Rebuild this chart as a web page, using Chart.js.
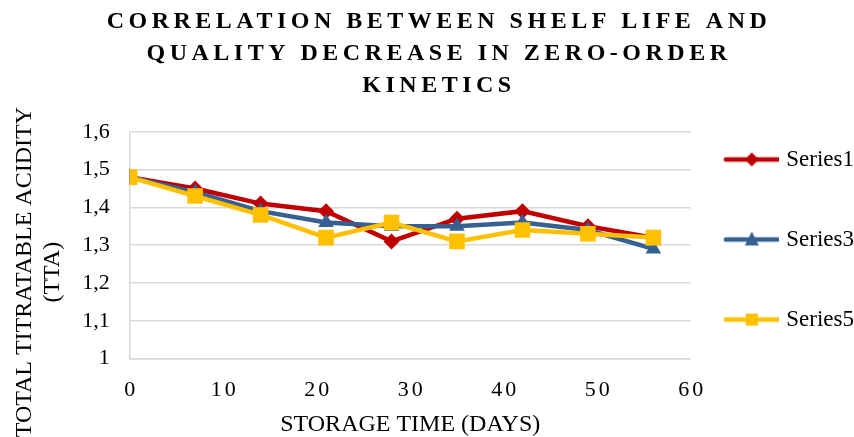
<!DOCTYPE html>
<html>
<head>
<meta charset="utf-8">
<script src="https://cdn.jsdelivr.net/npm/chart.js@4.4.1/dist/chart.umd.min.js"></script>
<style>
  html, body { margin: 0; padding: 0; background: #fff; }
  #wrap { width: 854px; height: 437px; position: relative; }
</style>
</head>
<body>
<div id="wrap"><canvas id="c"></canvas></div>
<script>
// ---- data ----
const days = [0, 7, 14, 21, 28, 35, 42, 49, 56];
const series1 = [1.48, 1.45, 1.41, 1.39, 1.31, 1.37, 1.39, 1.35, 1.32];
const series3 = [1.48, 1.44, 1.39, 1.36, 1.35, 1.35, 1.36, 1.34, 1.29];
const series5 = [1.48, 1.43, 1.38, 1.32, 1.36, 1.31, 1.34, 1.33, 1.32];
const seriesNames = ['Series1', 'Series3', 'Series5'];
const xTickLabels = ['0', '10', '20', '30', '40', '50', '60'];
const yTickLabels = ['1', '1,1', '1,2', '1,3', '1,4', '1,5', '1,6'];
const titleLines = ['CORRELATION BETWEEN SHELF LIFE AND', 'QUALITY DECREASE IN ZERO-ORDER', 'KINETICS'];
const xTitle = 'STORAGE TIME (DAYS)';
const yTitleLines = ['TOTAL TITRATABLE ACIDITY', '(TTA)'];

const RED = '#C00000', BLUE = '#366092', YELLOW = '#FFC000';
const FONT = "'Liberation Serif', 'Times New Roman', serif";

function toXY(ys) { return days.map((d, i) => ({ x: d, y: ys[i] })); }

// legend icons (line + marker)
function makeIcon(color, shape) {
  const c = document.createElement('canvas');
  c.width = 58; c.height = 22;
  const g = c.getContext('2d');
  g.strokeStyle = color; g.fillStyle = color; g.lineWidth = 4.5; g.lineCap = 'round';
  g.beginPath(); g.moveTo(5, 11); g.lineTo(58, 11); g.stroke();
  g.beginPath();
  if (shape === 'diamond') { g.moveTo(31, 4); g.lineTo(38, 11); g.lineTo(31, 18); g.lineTo(24, 11); }
  else if (shape === 'triangle') { g.moveTo(31, 3); g.lineTo(38, 17); g.lineTo(24, 17); }
  else { g.rect(25, 5, 12, 12); }
  g.closePath(); g.fill();
  return c;
}
const legendIcons = [makeIcon(RED, 'diamond'), makeIcon(BLUE, 'triangle'), makeIcon(YELLOW, 'square')];

function wrap(obj, name, fn) {
  if (!obj || obj['_w_' + name]) return;
  const orig = obj[name];
  obj[name] = function () { const c = this.ctx; c.save(); fn(c); orig.apply(this, arguments); c.restore(); };
  obj['_w_' + name] = true;
}

const spacingPlugin = {
  id: 'spacing',
  beforeDraw(chart) {
    wrap(chart.titleBlock, 'draw', c => { c.letterSpacing = '4.5px'; c.translate(12, 0); });
    wrap(chart.legend, 'draw', c => { c.translate(10, 37.5); });
    wrap(chart.scales.x, 'drawLabels', c => { c.letterSpacing = '3px'; c.translate(1.5, 0); });
    wrap(chart.scales.y, 'drawTitle', c => { c.translate(11, 27); });
  }
};

new Chart(document.getElementById('c'), {
  type: 'line',
  data: {
    datasets: [
      { label: seriesNames[0], data: toXY(series1), borderColor: RED, backgroundColor: RED, pointStyle: 'rectRot', pointRadius: 8, order: 3 },
      { label: seriesNames[1], data: toXY(series3), borderColor: BLUE, backgroundColor: BLUE, pointStyle: 'triangle', pointRadius: 9, order: 2 },
      { label: seriesNames[2], data: toXY(series5), borderColor: YELLOW, backgroundColor: YELLOW, pointStyle: 'rect', pointRadius: 11, order: 1 }
    ]
  },
  options: {
    responsive: true,
    maintainAspectRatio: false,
    animation: false,
    layout: { padding: { left: 0, right: 0, top: 0, bottom: 0 } },
    elements: {
      line: { borderWidth: 4.5, tension: 0 },
      point: { borderWidth: 0, hoverRadius: 9 }
    },
    plugins: {
      tooltip: { enabled: false },
      title: {
        display: true,
        text: titleLines,
        color: '#000',
        font: { family: FONT, size: 24, weight: 'bold', lineHeight: 1.33 },
        padding: { top: 6, bottom: 30 }
      },
      legend: {
        position: 'right',
        align: 'center',
        labels: {
          usePointStyle: true,
          pointStyleWidth: 50,
          padding: 24,
          color: '#000',
          font: { family: FONT, size: 23, lineHeight: 2.435 },
          generateLabels(chart) {
            return chart.data.datasets.map((ds, i) => ({
              text: [ds.label],
              pointStyle: legendIcons[i],
              fillStyle: ds.borderColor,
              strokeStyle: ds.borderColor,
              lineWidth: 0,
              hidden: false,
              datasetIndex: i,
              fontColor: '#000'
            }));
          }
        }
      }
    },
    scales: {
      x: {
        type: 'linear',
        min: 0, max: 60,
        grid: { display: false },
        border: { display: true, color: '#D9D9D9', width: 1.5 },
        ticks: {
          stepSize: 10,
          color: '#000',
          padding: 10,
          maxRotation: 0,
          font: { family: FONT, size: 22, lineHeight: 1.2 },
          callback: (v, i) => xTickLabels[i]
        },
        title: { display: true, text: xTitle, color: '#000', font: { family: FONT, size: 24, lineHeight: 1 }, padding: { top: 0, bottom: 0 } }
      },
      y: {
        min: 1, max: 1.6,
        grid: { color: '#D9D9D9', lineWidth: 1.5, drawTicks: false },
        border: { display: true, color: '#D9D9D9', width: 1.5 },
        ticks: {
          stepSize: 0.1,
          color: '#000',
          padding: 20,
          font: { family: FONT, size: 22 },
          callback: (v, i) => yTickLabels[i]
        },
        title: { display: true, text: yTitleLines, color: '#000', font: { family: FONT, size: 24, lineHeight: 1.17 }, padding: { top: 0, bottom: 6 } }
      }
    }
  },
  plugins: [spacingPlugin]
});
</script>
</body>
</html>
